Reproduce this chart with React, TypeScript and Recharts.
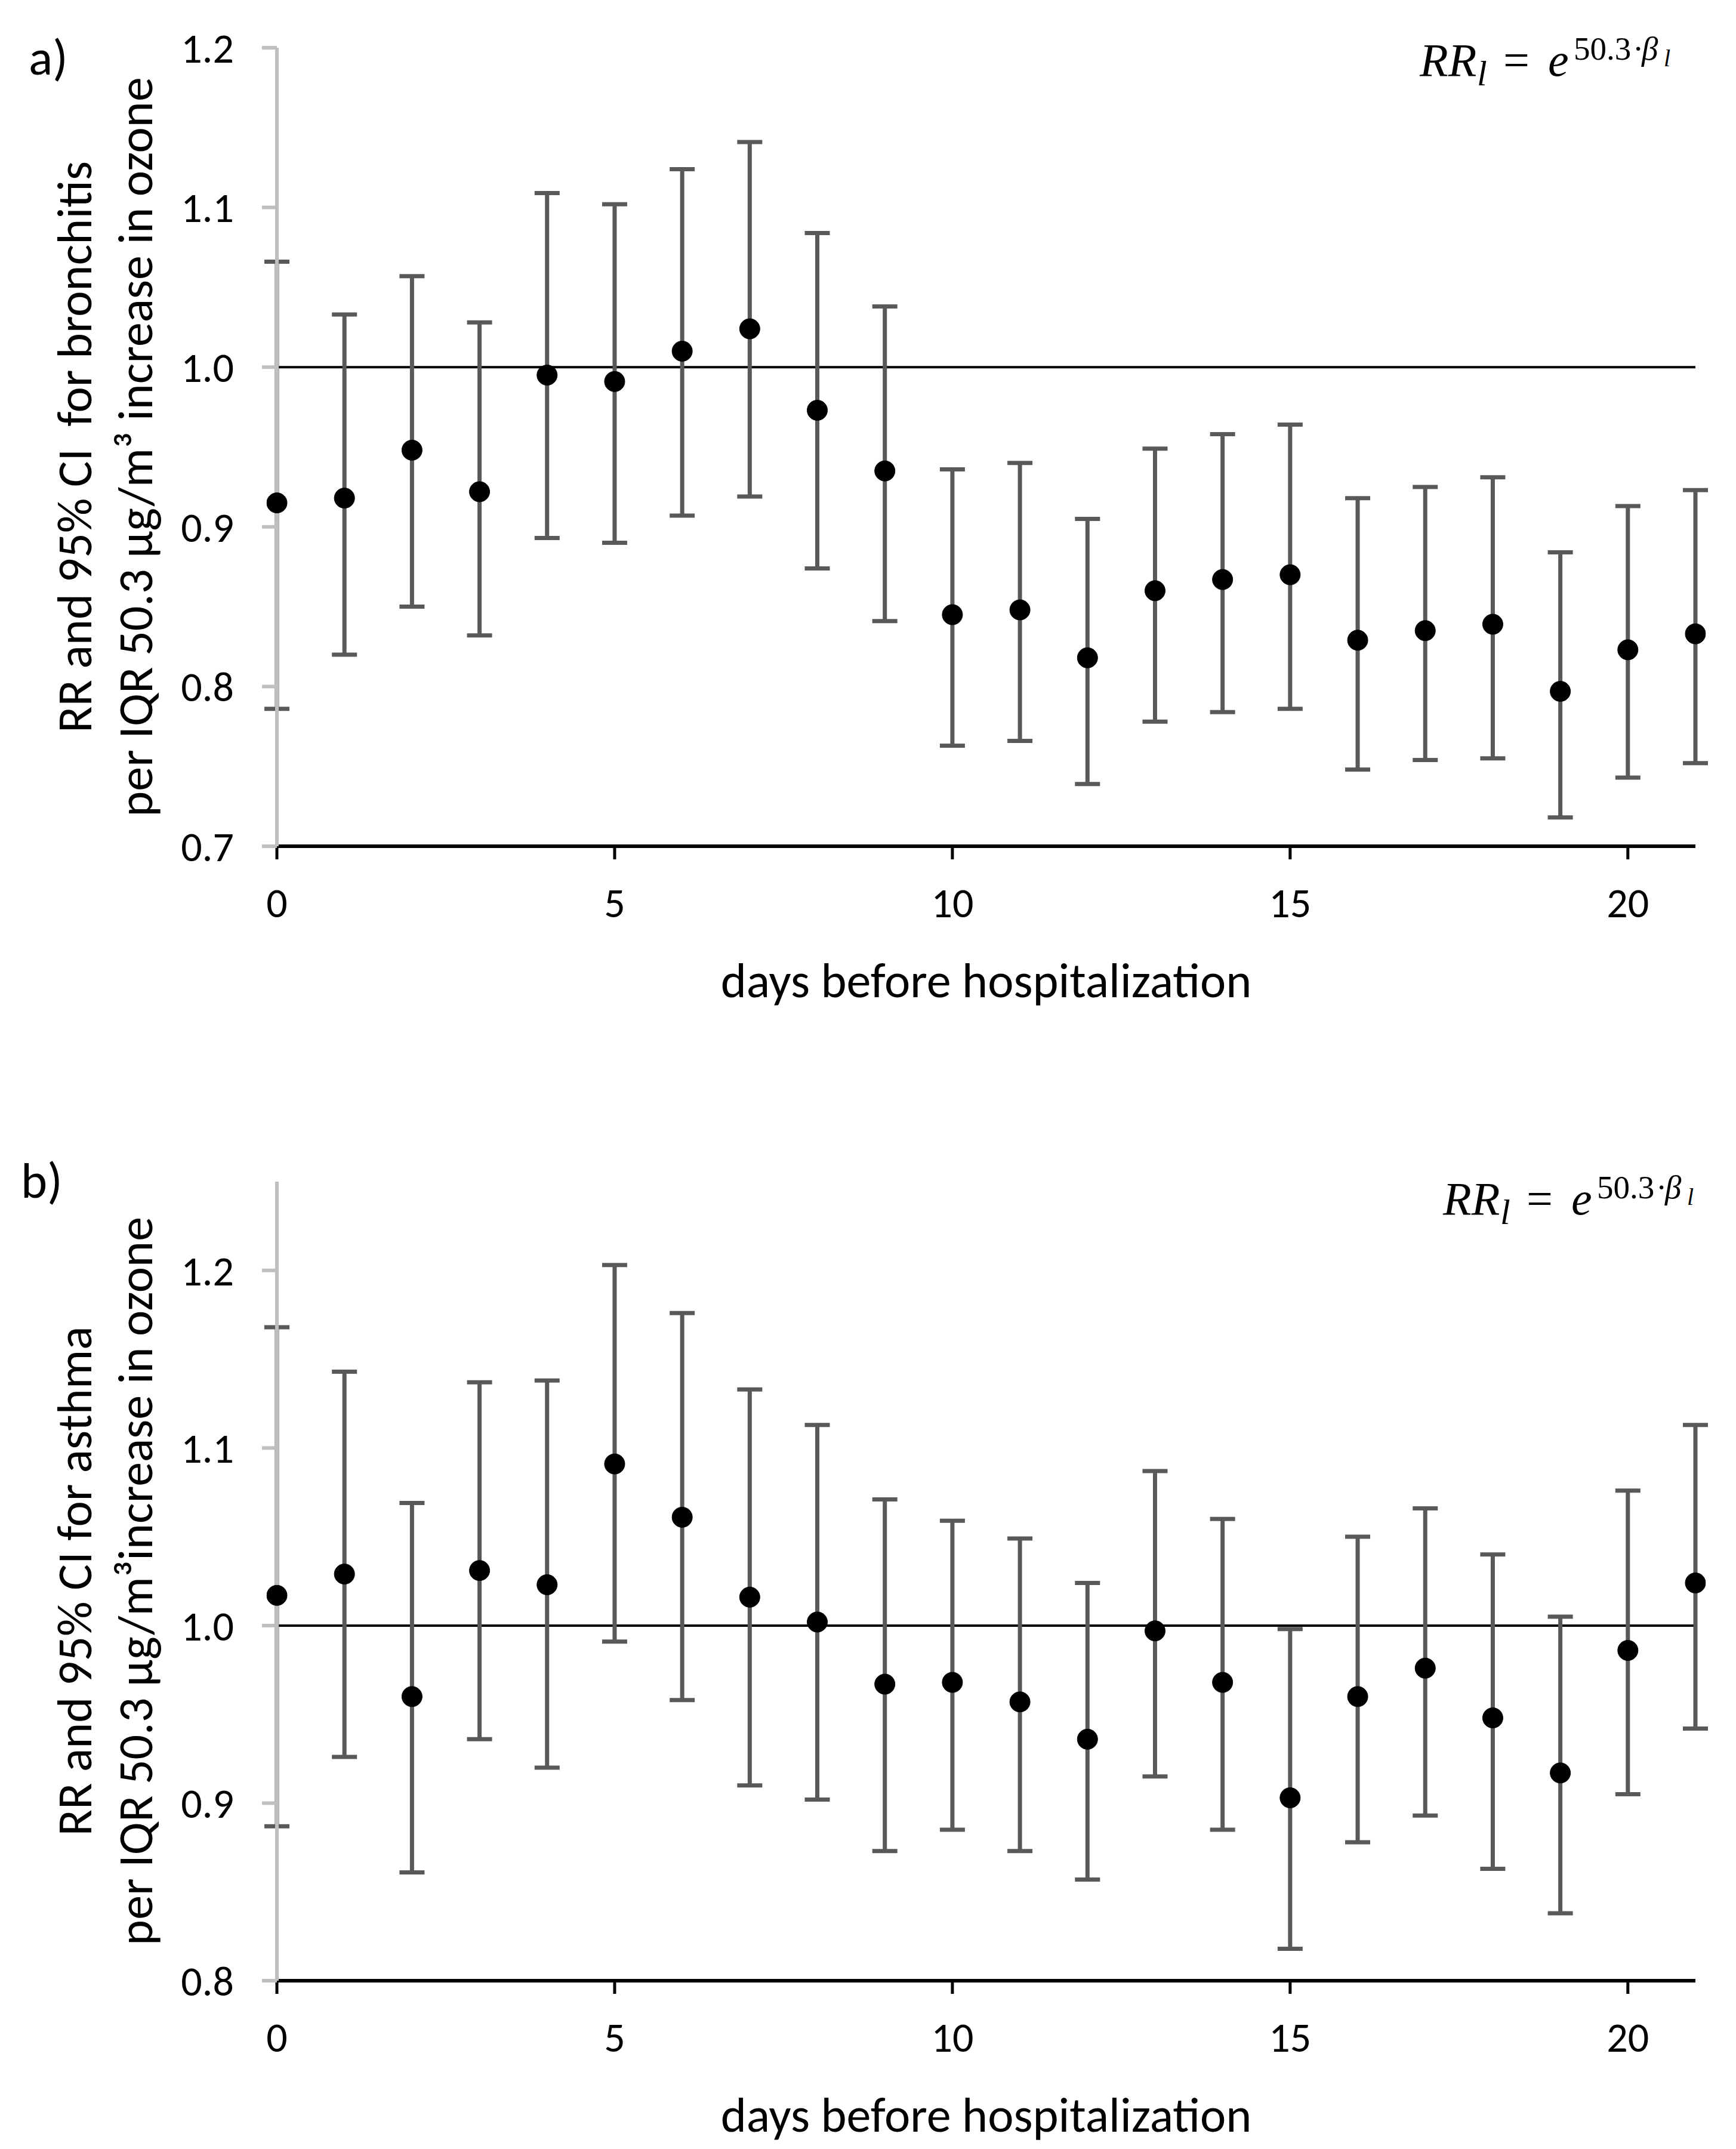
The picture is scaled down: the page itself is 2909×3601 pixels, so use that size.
import React from 'react';
import { LineChart, Line, XAxis, YAxis, ErrorBar, ReferenceLine } from 'recharts';

// ---------- data ----------
const days = [0, 1, 2, 3, 4, 5, 6, 7, 8, 9, 10, 11, 12, 13, 14, 15, 16, 17, 18, 19, 20, 21];
const xTicks = [0, 5, 10, 15, 20];

// a) bronchitis
const bronchitisRR = [0.915, 0.918, 0.948, 0.922, 0.995, 0.991, 1.010, 1.024, 0.973, 0.935, 0.845, 0.848, 0.818, 0.860, 0.867, 0.870, 0.829, 0.835, 0.839, 0.797, 0.823, 0.833];
const bronchitisUpper = [1.066, 1.033, 1.057, 1.028, 1.109, 1.102, 1.124, 1.141, 1.084, 1.038, 0.936, 0.940, 0.905, 0.949, 0.958, 0.964, 0.918, 0.925, 0.931, 0.884, 0.913, 0.923];
const bronchitisLower = [0.786, 0.820, 0.850, 0.832, 0.893, 0.890, 0.907, 0.919, 0.874, 0.841, 0.763, 0.766, 0.739, 0.778, 0.784, 0.786, 0.748, 0.754, 0.755, 0.718, 0.743, 0.752];
const bronchitisYTicks = [0.7, 0.8, 0.9, 1.0, 1.1, 1.2];

// b) asthma
const asthmaRR = [1.017, 1.029, 0.960, 1.031, 1.023, 1.091, 1.061, 1.016, 1.002, 0.967, 0.968, 0.957, 0.936, 0.997, 0.968, 0.903, 0.960, 0.976, 0.948, 0.917, 0.986, 1.024];
const asthmaUpper = [1.168, 1.143, 1.069, 1.137, 1.138, 1.203, 1.176, 1.133, 1.113, 1.071, 1.059, 1.049, 1.024, 1.087, 1.060, 0.998, 1.050, 1.066, 1.040, 1.005, 1.076, 1.113];
const asthmaLower = [0.887, 0.926, 0.861, 0.936, 0.920, 0.991, 0.958, 0.910, 0.902, 0.873, 0.885, 0.873, 0.857, 0.915, 0.885, 0.818, 0.878, 0.893, 0.863, 0.838, 0.905, 0.942];
const asthmaYTicks = [0.8, 0.9, 1.0, 1.1, 1.2];

const xTitle = 'days before hospitalization';
const bronchitisYTitle = ['RR and 95% CI  for bronchitis', 'per IQR 50.3 µg/m³ increase in ozone'];
const asthmaYTitle = ['RR and 95% CI for asthma', 'per IQR 50.3 µg/m³increase in ozone'];

// ---------- styles ----------
const SANS = 'Carlito, Calibri, Lato, sans-serif';
const SERIF = '"Liberation Serif", "DejaVu Serif", serif';
const BAR = '#595959';
const AXISGRAY = '#BFBFBF';

function buildRows(rr: number[], up: number[], lo: number[]) {
  return days.map((d, i) => ({ day: d, rr: rr[i], err: [rr[i] - lo[i], up[i] - rr[i]] }));
}

type PanelProps = {
  rr: number[]; up: number[]; lo: number[];
  yDomain: [number, number]; yTicks: number[];
  top: number; height: number; marginTop: number; xAxisHeight: number;
  yTitle: string[];
};

function Panel(p: PanelProps) {
  const rows = buildRows(p.rr, p.up, p.lo);
  const plotLeft = 464;
  const plotBottomLocal = p.height - p.xAxisHeight;
  const plotTopLocal = p.marginTop;
  return (
    <div style={{ position: 'absolute', left: 0, top: p.top, width: 2909, height: p.height }}>
      <LineChart
        width={2909}
        height={p.height}
        data={rows}
        margin={{ top: p.marginTop, right: 68, bottom: 0, left: 0 }}
      >
        <XAxis
          type="number"
          dataKey="day"
          domain={[0, 21]}
          ticks={xTicks}
          allowDataOverflow
          height={p.xAxisHeight}
          axisLine={{ stroke: '#000', strokeWidth: 6 }}
          tickLine={{ stroke: '#000', strokeWidth: 5 }}
          tickSize={22}
          tickMargin={47}
          tick={{ fill: '#000', fontSize: 70, fontFamily: SANS }}
          label={{
            content: (lp: any) => {
              const vb = lp && lp.viewBox && lp.viewBox.width ? lp.viewBox : { x: plotLeft, y: plotBottomLocal, width: 2377 };
              return (
                <text x={vb.x + vb.width / 2} y={vb.y + 253} textAnchor="middle" fontFamily={SANS} fontSize={82} fill="#000">
                  {xTitle}
                </text>
              );
            },
          }}
        />
        <YAxis
          type="number"
          domain={p.yDomain}
          ticks={p.yTicks}
          width={464}
          interval={0}
          axisLine={{ stroke: AXISGRAY, strokeWidth: 6 }}
          tickLine={{ stroke: AXISGRAY, strokeWidth: 6 }}
          tickSize={25}
          tickMargin={47}
          tickFormatter={(v: number) => v.toFixed(1)}
          tick={{ fill: '#000', fontSize: 70, fontFamily: SANS }}
          label={{
            content: (lp: any) => {
              const vb = lp && lp.viewBox && lp.viewBox.height ? lp.viewBox : { y: plotTopLocal, height: plotBottomLocal - plotTopLocal };
              const cy = vb.y + vb.height / 2;
              return (
                <text
                  x={153}
                  y={cy}
                  transform={`rotate(-90 153 ${cy})`}
                  textAnchor="middle"
                  fontFamily={SANS}
                  fontSize={82}
                  fill="#000"
                  style={{ whiteSpace: 'pre' }}
                >
                  <tspan x={153} dy={0}>{p.yTitle[0]}</tspan>
                  <tspan x={153} dy={102}>{p.yTitle[1]}</tspan>
                </text>
              );
            },
          }}
        />
        <ReferenceLine y={1} stroke="#000" strokeWidth={4} ifOverflow="hidden" />
        <Line
          dataKey="rr"
          stroke="none"
          isAnimationActive={false}
          activeDot={false}
          dot={{ r: 17, fill: '#000', stroke: '#000', strokeWidth: 1, clipDot: false }}
        >
          <ErrorBar dataKey="err" direction="y" width={21} stroke={BAR} strokeWidth={7} isAnimationActive={false} />
        </Line>
      </LineChart>
    </div>
  );
}

function Formula({ dx, dy }: { dx: number; dy: number }) {
  const b = 127 + dy;
  const x0 = 2379 + dx;
  return (
    <text fontFamily={SERIF} fill="#000" fontSize={78}>
      <tspan x={x0} y={b} fontStyle="italic">RR</tspan>
      <tspan x={x0 + 96} y={b + 16} fontStyle="italic" fontSize={60}>l</tspan>
      <tspan x={x0 + 140} y={b}>=</tspan>
      <tspan x={x0 + 215} y={b} fontStyle="italic">e</tspan>
      <tspan x={x0 + 258} y={b - 27} fontSize={55}>50.3</tspan>
      <tspan x={x0 + 357} y={b - 27} fontSize={55}>·</tspan>
      <tspan x={x0 + 372} y={b - 27} fontSize={55} fontStyle="italic">β</tspan>
      <tspan x={x0 + 409} y={b - 16} fontSize={40} fontStyle="italic">l</tspan>
    </text>
  );
}

export default function App() {
  return (
    <div style={{ position: 'absolute', left: 0, top: 0, width: 2909, height: 3601, background: '#fff', overflow: 'hidden' }}>
      <Panel
        rr={bronchitisRR} up={bronchitisUpper} lo={bronchitisLower}
        yDomain={[0.7, 1.2]} yTicks={bronchitisYTicks}
        top={0} height={1800} marginTop={80} xAxisHeight={382}
        yTitle={bronchitisYTitle}
      />
      <Panel
        rr={asthmaRR} up={asthmaUpper} lo={asthmaLower}
        yDomain={[0.8, 1.25]} yTicks={asthmaYTicks}
        top={1800} height={1801} marginTop={180} xAxisHeight={282}
        yTitle={asthmaYTitle}
      />
      <svg width={2909} height={3601} style={{ position: 'absolute', left: 0, top: 0, pointerEvents: 'none' }}>
        <text x={48} y={125} fontFamily={SANS} fontSize={84} fill="#000">a)</text>
        <text x={35} y={2007} fontFamily={SANS} fontSize={84} fill="#000">b)</text>
        <Formula dx={0} dy={0} />
        <Formula dx={39} dy={1908} />
      </svg>
    </div>
  );
}
